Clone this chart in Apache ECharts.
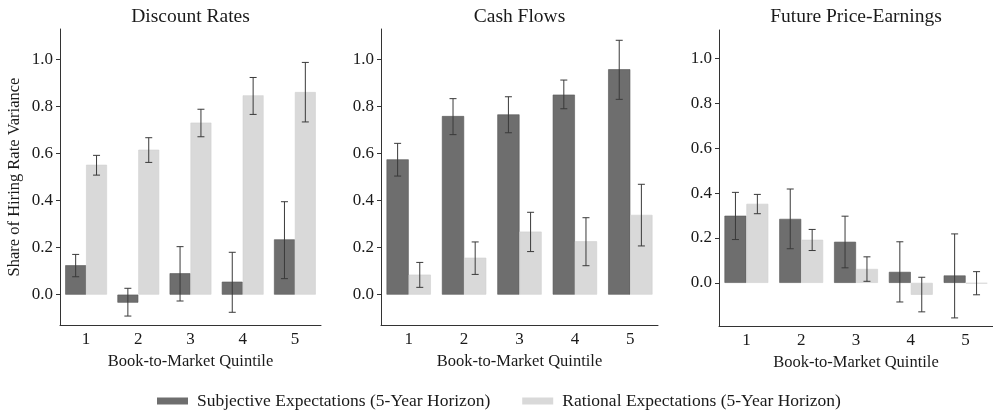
<!DOCTYPE html>
<html>
<head>
<meta charset="utf-8">
<script src="https://cdn.jsdelivr.net/npm/echarts@6/dist/echarts.min.js"></script>
<style>
  html, body { margin: 0; padding: 0; background: #fff; }
  #main { width: 993px; height: 410px; }
</style>
</head>
<body>
<div id="main"></div>
<script>
const quintiles = ['1', '2', '3', '4', '5']
const panelTitles = ['Discount Rates', 'Cash Flows', 'Future Price-Earnings']
const yTicks = [0, 0.2, 0.4, 0.6, 0.8, 1.0]

// subjective expectations (dark bars)
const subjDR = [0.125, -0.034, 0.091, 0.055, 0.235]
const subjDRLo = [0.076, -0.091, -0.027, -0.075, 0.068]
const subjDRHi = [0.171, 0.027, 0.204, 0.180, 0.395]
const subjCF = [0.575, 0.759, 0.766, 0.850, 0.958]
const subjCFLo = [0.504, 0.680, 0.688, 0.790, 0.830]
const subjCFHi = [0.643, 0.833, 0.841, 0.912, 1.081]
const subjPE = [0.299, 0.285, 0.183, 0.049, 0.033]
const subjPELo = [0.193, 0.152, 0.067, -0.085, -0.156]
const subjPEHi = [0.403, 0.418, 0.297, 0.183, 0.218]

// rational expectations (light bars)
const ratDR = [0.552, 0.616, 0.731, 0.847, 0.861]
const ratDRLo = [0.508, 0.562, 0.671, 0.766, 0.734]
const ratDRHi = [0.592, 0.667, 0.788, 0.923, 0.987]
const ratCF = [0.085, 0.157, 0.268, 0.227, 0.339]
const ratCFLo = [0.031, 0.086, 0.183, 0.123, 0.207]
const ratCFHi = [0.137, 0.224, 0.350, 0.327, 0.469]
const ratPE = [0.352, 0.192, 0.062, -0.053, -0.003]
const ratPELo = [0.308, 0.144, 0.007, -0.129, -0.053]
const ratPEHi = [0.394, 0.238, 0.116, 0.025, 0.050]

const SUBJ = 'Subjective Expectations (5-Year Horizon)'
const RAT = 'Rational Expectations (5-Year Horizon)'
const font = 'Liberation Serif'
const ink = '#1a1a1a'

const grids = [
  {left: 60, top: 29, width: 261, height: 296},
  {left: 381, top: 29, width: 277, height: 296},
  {left: 719, top: 30, width: 274, height: 296}
]
const yRanges = [[-0.129, 1.129], [-0.129, 1.129], [-0.192, 1.126]]

const panels = [
  {subj: subjDR, subjLo: subjDRLo, subjHi: subjDRHi, rat: ratDR, ratLo: ratDRLo, ratHi: ratDRHi},
  {subj: subjCF, subjLo: subjCFLo, subjHi: subjCFHi, rat: ratCF, ratLo: ratCFLo, ratHi: ratCFHi},
  {subj: subjPE, subjLo: subjPELo, subjHi: subjPEHi, rat: ratPE, ratLo: ratPELo, ratHi: ratPEHi}
]

// draws an error bar with caps, shifted left/right to sit on the dodged bar
function errorBar(side) {
  return function (params, api) {
    const idx = api.value(0)
    const top = api.coord([idx, api.value(2)])
    const bot = api.coord([idx, api.value(1)])
    const band = api.size([1, 0])[0]
    const cx = top[0] + side * band * 0.2
    const half = 3.5
    const style = {stroke: '#3a3a3a', lineWidth: 1}
    return {
      type: 'group',
      children: [
        {type: 'line', shape: {x1: cx, y1: top[1], x2: cx, y2: bot[1]}, style: style},
        {type: 'line', shape: {x1: cx - half, y1: top[1], x2: cx + half, y2: top[1]}, style: style},
        {type: 'line', shape: {x1: cx - half, y1: bot[1], x2: cx + half, y2: bot[1]}, style: style}
      ]
    }
  }
}

const xAxis = []
const yAxis = []
const series = []
const title = []

panels.forEach((p, i) => {
  title.push({
    text: panelTitles[i],
    left: grids[i].left + grids[i].width / 2,
    top: 7,
    padding: 0,
    textAlign: 'center',
    textStyle: {fontFamily: font, fontSize: 19.5, fontWeight: 'normal', color: ink}
  })
  xAxis.push({
    type: 'category',
    gridIndex: i,
    data: quintiles,
    position: 'bottom',
    name: 'Book-to-Market Quintile',
    nameLocation: 'middle',
    nameGap: 22,
    nameTextStyle: {fontFamily: font, fontSize: 16.5, color: ink},
    axisLine: {onZero: false, lineStyle: {color: '#333', width: 1}},
    axisTick: {alignWithLabel: true, length: 4, lineStyle: {color: '#333'}},
    axisLabel: {fontFamily: font, fontSize: 17, color: ink, margin: 6}
  })
  yAxis.push({
    type: 'value',
    gridIndex: i,
    min: yRanges[i][0],
    max: yRanges[i][1],
    name: i === 0 ? 'Share of Hiring Rate Variance' : '',
    nameLocation: 'middle',
    nameGap: 37,
    nameTextStyle: {fontFamily: font, fontSize: 16.5, color: ink},
    splitLine: {show: false},
    axisLine: {show: true, lineStyle: {color: '#333', width: 1}},
    axisTick: {show: true, length: 4, customValues: yTicks, lineStyle: {color: '#333'}},
    axisLabel: {
      fontFamily: font, fontSize: 17, color: ink, margin: 7,
      customValues: yTicks,
      formatter: v => v.toFixed(1)
    }
  })
  series.push({
    name: SUBJ,
    type: 'bar',
    xAxisIndex: i,
    yAxisIndex: i,
    data: p.subj,
    barGap: '0%',
    barCategoryGap: '20%',
    itemStyle: {color: '#6e6e6e', borderColor: '#585858', borderWidth: 0.6}
  })
  series.push({
    name: RAT,
    type: 'bar',
    xAxisIndex: i,
    yAxisIndex: i,
    data: p.rat,
    barGap: '0%',
    barCategoryGap: '20%',
    itemStyle: {color: '#d9d9d9', borderColor: '#d0d0d0', borderWidth: 0.6}
  })
  series.push({
    type: 'custom',
    xAxisIndex: i,
    yAxisIndex: i,
    z: 5,
    renderItem: errorBar(-1),
    data: quintiles.map((q, k) => [k, p.subjLo[k], p.subjHi[k]])
  })
  series.push({
    type: 'custom',
    xAxisIndex: i,
    yAxisIndex: i,
    z: 5,
    renderItem: errorBar(1),
    data: quintiles.map((q, k) => [k, p.ratLo[k], p.ratHi[k]])
  })
})

const option = {
  animation: false,
  title: title,
  grid: grids,
  xAxis: xAxis,
  yAxis: yAxis,
  legend: {
    data: [
      {name: SUBJ, itemStyle: {color: '#6e6e6e', borderWidth: 0}},
      {name: RAT, itemStyle: {color: '#d9d9d9', borderWidth: 0}}
    ],
    left: 157,
    top: 392,
    padding: 0,
    icon: 'rect',
    itemWidth: 31,
    itemHeight: 7,
    itemGap: 32,
    textStyle: {fontFamily: font, fontSize: 17.5, color: ink, padding: [0, 0, 0, 4]}
  },
  series: series
}

const chart = echarts.init(document.getElementById('main'))
chart.setOption(option)
</script>
</body>
</html>
